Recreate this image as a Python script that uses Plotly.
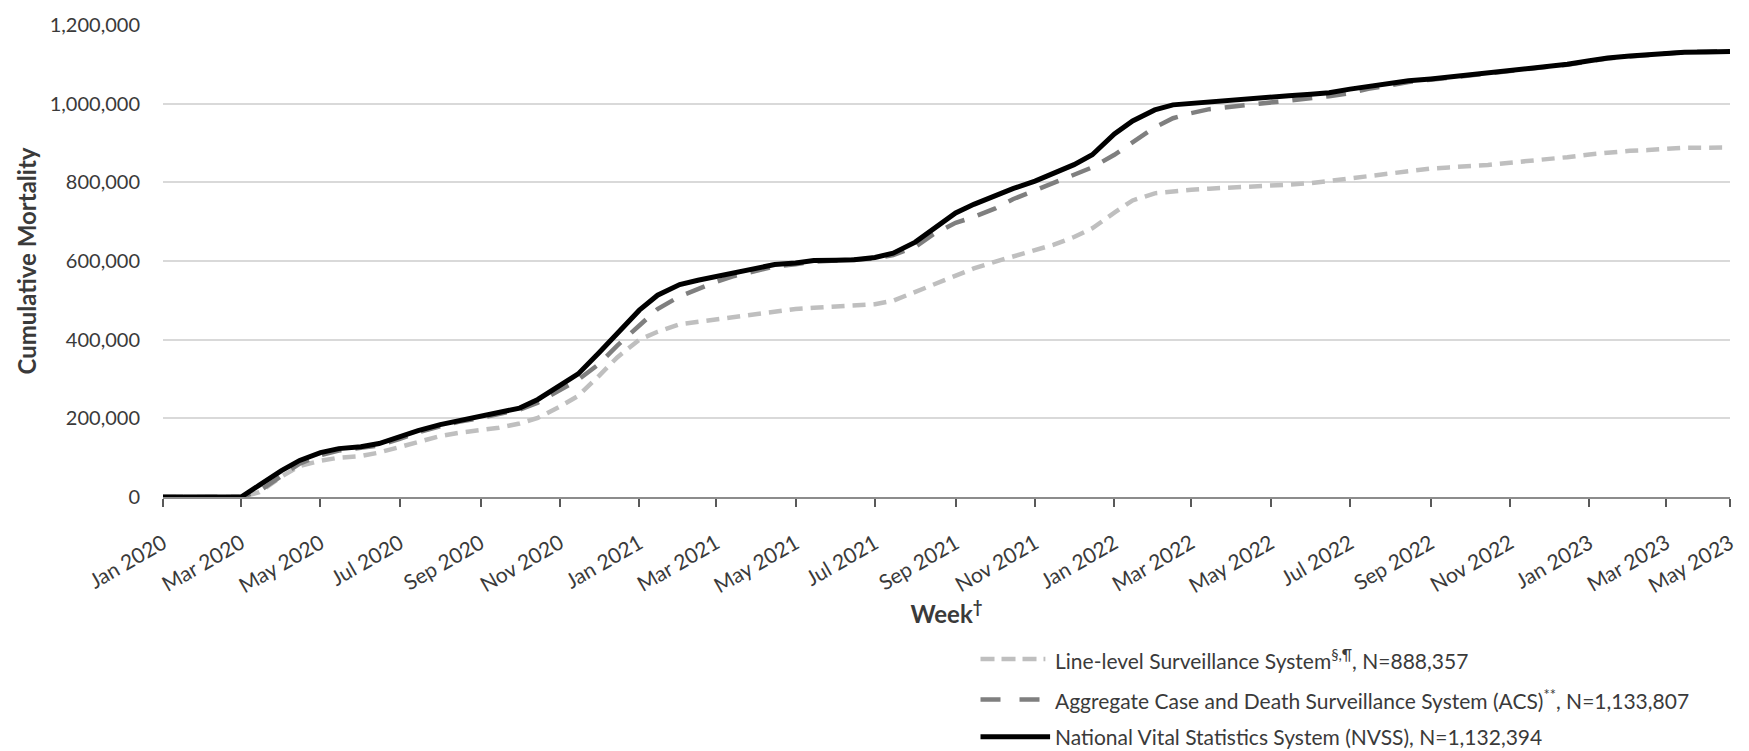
import plotly.graph_objects as go

# Reporting dates: 1st and 15th of each month, ending with the final reporting week
dates = []
for yr in (2020, 2021, 2022, 2023):
    for mo in range(1, 13):
        if yr == 2023 and mo > 3:
            break
        dates += [f"{yr}-{mo:02d}-01", f"{yr}-{mo:02d}-15"]
dates += ["2023-04-01", "2023-04-19"]

line_level = [
    0, 0, 0, 0, 0, 12000, 52000, 79000, 92000, 100000, 104000, 113000,
    128000, 141000, 155000, 163000, 170000, 176000, 187000, 201000, 230000, 257000, 308000, 355000,
    400000, 420000, 439000, 445000, 451000, 458000, 466000, 472000, 478000, 481000, 484000, 487000,
    490000, 499000, 521000, 541000, 562000, 581000, 598000, 612000, 629000, 641000, 661000, 683000,
    723000, 754000, 772000, 777000, 781000, 784000, 786000, 788000, 791000, 794000, 798000, 804000,
    811000, 816000, 823000, 828000, 835000, 838000, 841000, 844000, 850000, 854000, 859000, 864000,
    871000, 876000, 880000, 882000, 885000, 888000, 888100, 888357,
]

acs = [
    0, 0, 0, 0, 0, 15000, 52000, 85000, 106000, 118000, 125000, 131000,
    148000, 164000, 180000, 191000, 201000, 211000, 222000, 240000, 272000, 298000, 338000, 385000,
    436000, 478000, 510000, 530000, 547000, 562000, 574000, 586000, 592000, 598000, 601000, 602000,
    606000, 615000, 636000, 668000, 697000, 712000, 733000, 757000, 780000, 796000, 818000, 838000,
    870000, 903000, 940000, 963000, 976000, 986000, 992000, 997000, 1002000, 1007000, 1013000, 1019000,
    1027000, 1038000, 1047000, 1055000, 1061000, 1066000, 1071000, 1076000, 1082000, 1087000, 1093000, 1099000,
    1108000, 1115000, 1120000, 1124000, 1129000, 1131000, 1132500, 1133807,
]

nvss = [
    0, 0, 0, 0, 0, 30000, 67000, 93000, 113000, 123000, 128000, 136000,
    155000, 169000, 184000, 194000, 205000, 215000, 226000, 248000, 284000, 313000, 367000, 417000,
    475000, 513000, 540000, 551000, 561000, 571000, 580000, 591000, 595000, 601000, 602000, 603000,
    609000, 620000, 648000, 683000, 722000, 744000, 767000, 784000, 803000, 822000, 845000, 870000,
    923000, 956000, 984000, 997000, 1001000, 1005000, 1008000, 1012000, 1016000, 1020000, 1024000, 1028000,
    1037000, 1044000, 1051000, 1058000, 1063000, 1068000, 1073000, 1077000, 1083000, 1088000, 1094000, 1100000,
    1109000, 1116000, 1121000, 1124000, 1129000, 1131000, 1131500, 1132394,
]

tick_dates = [
    "2020-01-01", "2020-03-01", "2020-05-01", "2020-07-01", "2020-09-01", "2020-11-01",
    "2021-01-01", "2021-03-01", "2021-05-01", "2021-07-01", "2021-09-01", "2021-11-01",
    "2022-01-01", "2022-03-01", "2022-05-01", "2022-07-01", "2022-09-01", "2022-11-01",
    "2023-01-01", "2023-03-01", "2023-04-19",
]
tick_labels = [
    "Jan 2020", "Mar 2020", "May 2020", "Jul 2020", "Sep 2020", "Nov 2020",
    "Jan 2021", "Mar 2021", "May 2021", "Jul 2021", "Sep 2021", "Nov 2021",
    "Jan 2022", "Mar 2022", "May 2022", "Jul 2022", "Sep 2022", "Nov 2022",
    "Jan 2023", "Mar 2023", "May 2023",
]

series = [
    ("Line-level Surveillance System<sup>§,¶</sup>, N=888,357", line_level, "#bfbfbf", 4.5, "13px,8px", "14px,7px"),
    ("Aggregate Case and Death Surveillance System (ACS)<sup>**</sup>, N=1,133,807", acs, "#7f7f7f", 4.5, "20px,14px", "20px,19px"),
    ("National Vital Statistics System (NVSS), N=1,132,394", nvss, "#000000", 5, "solid", "solid"),
]

FONT = "Lato, 'Open Sans', sans-serif"
TXT = "#3a3a3a"

fig = go.Figure()
for name, vals, color, width, dash, _ in series:
    fig.add_trace(go.Scatter(
        x=dates, y=vals, mode="lines", name=name,
        line=dict(color=color, width=width, dash=dash),
        showlegend=False,
    ))

# Legend drawn below the plot: sample line + label per series
legend_rows = [-0.343, -0.429, -0.508]
x0, x1, xt = 0.5217, 0.5631, 0.5682
for (name, _, color, width, _, ldash), yr in zip(series, legend_rows):
    fig.add_shape(type="line", xref="paper", yref="paper",
                  x0=x0, x1=x1 if ldash != "solid" else x1 + 0.003, y0=yr, y1=yr,
                  line=dict(color=color, width=width, dash=ldash))
    fig.add_annotation(xref="paper", yref="paper", x=xt, y=yr, text=name,
                       showarrow=False, xanchor="left", yanchor="middle",
                       font=dict(family=FONT, size=21, color=TXT))

fig.update_layout(
    width=1749, height=751,
    margin=dict(l=163, r=16, t=19, b=254),
    paper_bgcolor="white", plot_bgcolor="white",
    font=dict(family=FONT, color=TXT),
    xaxis=dict(
        type="date", range=["2020-01-01", "2023-04-19"],
        tickvals=tick_dates, ticktext=tick_labels, tickangle=-30,
        tickfont=dict(size=21, color=TXT), ticklabelstandoff=16,
        showgrid=False, showline=True, linecolor="#8c8c8c", linewidth=2,
        ticks="outside", ticklen=8, tickcolor="#595959", tickwidth=1.5,
        title=dict(text="<b>Week<sup>†</sup></b>", font=dict(size=24, color=TXT), standoff=4),
    ),
    yaxis=dict(
        range=[0, 1200000], dtick=200000, tickformat=",",
        tickfont=dict(size=20, color=TXT),
        showgrid=True, gridcolor="#d9d9d9", gridwidth=1.5,
        zeroline=False, showline=False,
        ticks="outside", ticklen=18, tickcolor="rgba(0,0,0,0)",
        title=dict(text="<b>Cumulative Mortality</b>", font=dict(size=24, color=TXT), standoff=6),
    ),
)

fig.write_html("out.html")
